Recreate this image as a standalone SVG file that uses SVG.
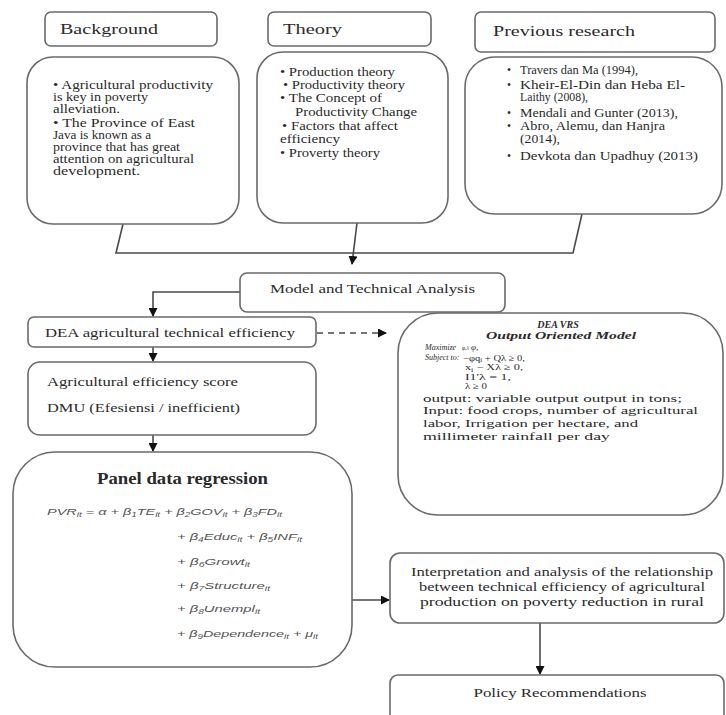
<svg xmlns="http://www.w3.org/2000/svg" width="726" height="715" viewBox="0 0 726 715">
<defs>
<marker id="arr" markerUnits="userSpaceOnUse" markerWidth="9" markerHeight="9" refX="8" refY="4.5" orient="auto">
<path d="M0,0 L9,4.5 L0,9 z" fill="#111"/>
</marker>
<style>
.box{fill:#fff;stroke:#6a6a6a;stroke-width:1.6}
.t{font-family:"Liberation Serif","Times New Roman",serif;fill:#2a2a2a}
.h{font-size:15px}
.b{font-size:11.5px}
.m{font-size:12.5px}
.v{font-size:11px}
.f{font-family:"Liberation Sans",Arial,sans-serif;font-style:italic;font-size:9.5px;fill:#555}
.sub{font-size:6.5px}
.c{fill:none;stroke:#4a4a4a;stroke-width:1.6}
.i{font-style:italic}
</style>
</defs>
<rect width="726" height="715" fill="#fff"/>

<g id="connectors">
<path class="c" d="M123,224 L116,253 L573,253 L582,214"/>
<path class="c" d="M357,223 L352,264" marker-end="url(#arr)"/>
<path class="c" d="M240,292 L153,292 L153,316" marker-end="url(#arr)"/>
<path class="c" d="M153,347 L153,361" marker-end="url(#arr)"/>
<path class="c" d="M153,435 L153,451" marker-end="url(#arr)"/>
<path class="c" d="M317,333 L386,333" stroke-dasharray="6,5" marker-end="url(#arr)"/>
<path class="c" d="M352,600 L389,600" marker-end="url(#arr)"/>
<path class="c" d="M540,623 L540,674" marker-end="url(#arr)"/>
</g>

<g id="background-head">
<rect class="box" x="45" y="12" width="172" height="34" rx="6"/>
<text class="t h" x="60" y="34" textLength="98" lengthAdjust="spacingAndGlyphs">Background</text>
</g>
<g id="theory-head">
<rect class="box" x="268" y="12" width="163" height="34" rx="6"/>
<text class="t h" x="283" y="34" textLength="59" lengthAdjust="spacingAndGlyphs">Theory</text>
</g>
<g id="previous-head">
<rect class="box" x="475" y="12" width="240" height="40" rx="6"/>
<text class="t h" x="493" y="36" textLength="142" lengthAdjust="spacingAndGlyphs">Previous research</text>
</g>

<g id="background-body">
<rect class="box" x="27" y="57" width="212" height="167" rx="26"/>
<text class="t b" x="53" y="89" textLength="160" lengthAdjust="spacingAndGlyphs">• Agricultural productivity</text>
<text class="t b" x="53" y="101" textLength="95" lengthAdjust="spacingAndGlyphs">is key in poverty</text>
<text class="t b" x="53" y="113" textLength="67" lengthAdjust="spacingAndGlyphs">alleviation.</text>
<text class="t b" x="53" y="127" textLength="142" lengthAdjust="spacingAndGlyphs">• The Province of East</text>
<text class="t b" x="53" y="139" textLength="98" lengthAdjust="spacingAndGlyphs">Java is known as a</text>
<text class="t b" x="53" y="151" textLength="127" lengthAdjust="spacingAndGlyphs">province that has great</text>
<text class="t b" x="53" y="163" textLength="141" lengthAdjust="spacingAndGlyphs">attention on agricultural</text>
<text class="t b" x="53" y="175" textLength="87" lengthAdjust="spacingAndGlyphs">development.</text>
</g>

<g id="theory-body">
<rect class="box" x="257" y="52" width="191" height="171" rx="26"/>
<text class="t b" x="280" y="76" textLength="115" lengthAdjust="spacingAndGlyphs">• Production theory</text>
<text class="t b" x="283" y="89" textLength="122" lengthAdjust="spacingAndGlyphs">• Productivity theory</text>
<text class="t b" x="280" y="102" textLength="102" lengthAdjust="spacingAndGlyphs">• The Concept of</text>
<text class="t b" x="295" y="116" textLength="122" lengthAdjust="spacingAndGlyphs">Productivity Change</text>
<text class="t b" x="282" y="130" textLength="116" lengthAdjust="spacingAndGlyphs">• Factors that affect</text>
<text class="t b" x="280" y="143" textLength="60" lengthAdjust="spacingAndGlyphs">efficiency</text>
<text class="t b" x="280" y="157" textLength="100" lengthAdjust="spacingAndGlyphs">• Proverty theory</text>
</g>

<g id="previous-body">
<rect class="box" x="465" y="57" width="257" height="157" rx="30"/>
<g class="t b">
<text x="507" y="74">•</text>
<text x="507" y="89">•</text>
<text x="507" y="117">•</text>
<text x="507" y="130">•</text>
<text x="507" y="160">•</text>
</g>
<text class="t b" x="520" y="74" textLength="118" lengthAdjust="spacingAndGlyphs">Travers dan Ma (1994),</text>
<text class="t b" x="520" y="89" textLength="165" lengthAdjust="spacingAndGlyphs">Kheir-El-Din dan Heba El-</text>
<text class="t b" x="520" y="101" textLength="68" lengthAdjust="spacingAndGlyphs">Laithy (2008),</text>
<text class="t b" x="520" y="117" textLength="158" lengthAdjust="spacingAndGlyphs">Mendali and Gunter (2013),</text>
<text class="t b" x="520" y="130" textLength="145" lengthAdjust="spacingAndGlyphs">Abro, Alemu, dan Hanjra</text>
<text class="t b" x="520" y="143" textLength="40" lengthAdjust="spacingAndGlyphs">(2014),</text>
<text class="t b" x="520" y="160" textLength="178" lengthAdjust="spacingAndGlyphs">Devkota dan Upadhuy (2013)</text>
</g>

<g id="model">
<rect class="box" x="240" y="273" width="265" height="39" rx="7"/>
<text class="t b" x="270" y="293" textLength="205" lengthAdjust="spacingAndGlyphs">Model and Technical Analysis</text>
</g>

<g id="dea">
<rect class="box" x="28" y="317" width="288" height="30" rx="6"/>
<text class="t m" x="45" y="337" textLength="250" lengthAdjust="spacingAndGlyphs">DEA agricultural technical efficiency</text>
</g>

<g id="score">
<rect class="box" x="28" y="362" width="288" height="73" rx="12"/>
<text class="t m" x="47" y="386" textLength="191" lengthAdjust="spacingAndGlyphs">Agricultural efficiency score</text>
<text class="t m" x="47" y="412" textLength="193" lengthAdjust="spacingAndGlyphs">DMU (Efesiensi / inefficient)</text>
</g>

<g id="dea-vrs">
<rect class="box" x="398" y="313" width="325" height="202" rx="40"/>
<text class="t" x="558" y="328" text-anchor="middle" font-size="10" font-weight="bold" font-style="italic">DEA VRS</text>
<text class="t" x="561" y="339" text-anchor="middle" font-size="10" font-weight="bold" font-style="italic" textLength="150" lengthAdjust="spacingAndGlyphs">Output Oriented Model</text>
<text class="t i" x="425" y="350" font-size="8">Maximize</text>
<text class="t i" x="462" y="350" font-size="5.5">φ,λ</text>
<text class="t i" x="471" y="350" font-size="9">φ,</text>
<text class="t i" x="425" y="360" font-size="8">Subject to:</text>
<text class="t" x="463" y="360.5" font-size="9" textLength="62" lengthAdjust="spacingAndGlyphs">−φq<tspan font-size="6" dy="1.5">i</tspan><tspan dy="-1.5"> + Qλ ≥ 0,</tspan></text>
<text class="t" x="465" y="370" font-size="9" textLength="58" lengthAdjust="spacingAndGlyphs">x<tspan font-size="6" dy="1.5">i</tspan><tspan dy="-1.5"> − Xλ ≥ 0,</tspan></text>
<text class="t" x="465" y="379.5" font-size="9" textLength="46" lengthAdjust="spacingAndGlyphs">I1'λ = 1,</text>
<text class="t" x="465" y="389" font-size="9" textLength="22" lengthAdjust="spacingAndGlyphs">λ ≥ 0</text>
<text class="t v" x="423" y="402" textLength="259" lengthAdjust="spacingAndGlyphs">output: variable output output in tons;</text>
<text class="t v" x="423" y="414" textLength="275" lengthAdjust="spacingAndGlyphs">Input: food crops, number of agricultural</text>
<text class="t v" x="423" y="427" textLength="215" lengthAdjust="spacingAndGlyphs">labor, Irrigation per hectare, and</text>
<text class="t v" x="423" y="440" textLength="187" lengthAdjust="spacingAndGlyphs">millimeter rainfall per day</text>
</g>

<g id="panel">
<rect class="box" x="13" y="452" width="339" height="215" rx="42"/>
<text class="t" x="97" y="484" font-size="16" font-weight="bold" textLength="171" lengthAdjust="spacingAndGlyphs">Panel data regression</text>
<text class="f" x="47" y="515" textLength="235" lengthAdjust="spacingAndGlyphs">PVR<tspan class="sub" dy="2">it</tspan><tspan dy="-2"> = α + β</tspan><tspan class="sub" dy="2">1</tspan><tspan dy="-2">TE</tspan><tspan class="sub" dy="2">it</tspan><tspan dy="-2"> + β</tspan><tspan class="sub" dy="2">2</tspan><tspan dy="-2">GOV</tspan><tspan class="sub" dy="2">it</tspan><tspan dy="-2">  + β</tspan><tspan class="sub" dy="2">3</tspan><tspan dy="-2">FD</tspan><tspan class="sub" dy="2">it</tspan></text>
<text class="f" x="177" y="540" textLength="125" lengthAdjust="spacingAndGlyphs">+ β<tspan class="sub" dy="2">4</tspan><tspan dy="-2">Educ</tspan><tspan class="sub" dy="2">it</tspan><tspan dy="-2"> + β</tspan><tspan class="sub" dy="2">5</tspan><tspan dy="-2">INF</tspan><tspan class="sub" dy="2">it</tspan></text>
<text class="f" x="177" y="565" textLength="73" lengthAdjust="spacingAndGlyphs">+ β<tspan class="sub" dy="2">6</tspan><tspan dy="-2">Growt</tspan><tspan class="sub" dy="2">it</tspan></text>
<text class="f" x="177" y="589" textLength="93" lengthAdjust="spacingAndGlyphs">+ β<tspan class="sub" dy="2">7</tspan><tspan dy="-2">Structure</tspan><tspan class="sub" dy="2">it</tspan></text>
<text class="f" x="177" y="612" textLength="83" lengthAdjust="spacingAndGlyphs">+ β<tspan class="sub" dy="2">8</tspan><tspan dy="-2">Unempl</tspan><tspan class="sub" dy="2">it</tspan></text>
<text class="f" x="177" y="637" textLength="141" lengthAdjust="spacingAndGlyphs">+ β<tspan class="sub" dy="2">9</tspan><tspan dy="-2">Dependence</tspan><tspan class="sub" dy="2">it</tspan><tspan dy="-2"> + μ</tspan><tspan class="sub" dy="2">it</tspan></text>
</g>

<g id="interpretation">
<rect class="box" x="390" y="553" width="334" height="70" rx="10"/>
<text class="t m" x="562" y="576" text-anchor="middle" textLength="302" lengthAdjust="spacingAndGlyphs">Interpretation and analysis of the relationship</text>
<text class="t m" x="562" y="591" text-anchor="middle" textLength="286" lengthAdjust="spacingAndGlyphs">between technical efficiency of agricultural</text>
<text class="t m" x="562" y="606" text-anchor="middle" textLength="284" lengthAdjust="spacingAndGlyphs">production on poverty reduction in rural</text>
</g>

<g id="policy">
<rect class="box" x="390" y="675" width="334" height="50" rx="8"/>
<text class="t m" x="560" y="697" text-anchor="middle" textLength="173" lengthAdjust="spacingAndGlyphs">Policy Recommendations</text>
</g>
</svg>
